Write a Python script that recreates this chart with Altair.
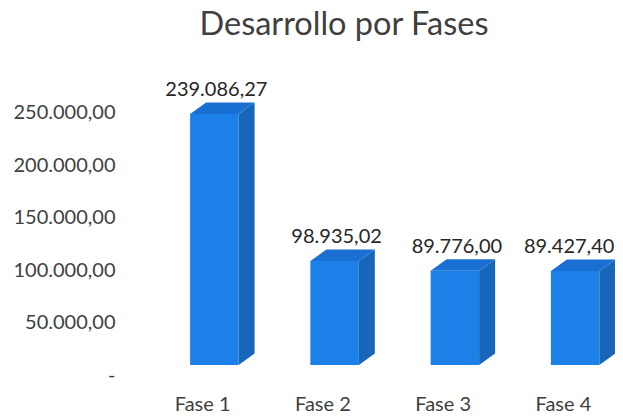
import altair as alt
import pandas as pd

categories = ["Fase 1", "Fase 2", "Fase 3", "Fase 4"]
values = [239086.27, 98935.02, 89776.00, 89427.40]
value_labels = ["239.086,27", "98.935,02", "89.776,00", "89.427,40"]
y_ticks = [0, 50000, 100000, 150000, 200000, 250000]

FRONT_L, FRONT_W = 0.40, 0.403
DEPTH_X, DEPTH_Y = 0.133, 11000

front, side, top = [], [], []
for i, (c, v, t) in enumerate(zip(categories, values, value_labels)):
    l = i + FRONT_L
    r = l + FRONT_W
    front.append({"c": c, "l": l, "r": r, "v": v, "t": t, "m": (l + r) / 2})
    side += [
        {"c": c, "x": r, "y": v, "y2": 0},
        {"c": c, "x": r + DEPTH_X, "y": v + DEPTH_Y, "y2": DEPTH_Y},
    ]
    top += [
        {"c": c, "x": l, "y": v, "y2": v},
        {"c": c, "x": l + DEPTH_X, "y": v + DEPTH_Y, "y2": v},
        {"c": c, "x": r, "y": v + DEPTH_Y, "y2": v},
        {"c": c, "x": r + DEPTH_X, "y": v + DEPTH_Y, "y2": v + DEPTH_Y},
    ]

FONT = "Lato"
INK = "#3f3f3f"
xs = alt.Scale(domain=[0, 3.933], nice=False, zero=False)
ys = alt.Scale(domain=[0, 250000], nice=False)

x_axis = alt.Axis(
    values=[0.5, 1.5, 2.5, 3.5],
    labelExpr="'Fase ' + ceil(datum.value)",
    title=None, domain=False, ticks=False, grid=False,
    labelFont=FONT, labelFontSize=20, labelColor=INK, labelPadding=29,
)
y_axis = alt.Axis(
    values=y_ticks,
    labelExpr="datum.value == 0 ? '-' : format(datum.value / 1000, 'd') + '.000,00'",
    title=None, domain=False, ticks=False, grid=False,
    labelFont=FONT, labelFontSize=20, labelColor=INK, labelPadding=27, labelOffset=10,
)

fdf = pd.DataFrame(front)
bars = alt.Chart(fdf).mark_rect(color="#1c80e9").encode(
    x=alt.X("l:Q", scale=xs, axis=x_axis),
    x2="r:Q",
    y=alt.Y("v:Q", scale=ys, axis=y_axis),
    y2=alt.datum(0),
)


def face(rows, colour):
    return alt.Chart(pd.DataFrame(rows)).mark_area(
        color=colour, interpolate="linear", orient="vertical", opacity=1,
    ).encode(
        x=alt.X("x:Q", scale=xs),
        y=alt.Y("y:Q", scale=ys, stack=None),
        y2=alt.Y2("y2:Q"),
        detail="c:N",
    )


def labels(df, dx):
    return alt.Chart(df).mark_text(
        font=FONT, fontSize=20, color="#262626", dx=dx, dy=-24, baseline="middle",
    ).encode(
        x=alt.X("m:Q", scale=xs), y=alt.Y("v:Q", scale=ys), text="t:N",
    )


chart = alt.layer(
    bars,
    face(side, "#1766ba"),
    face(top, "#1a6fd2"),
    labels(fdf.iloc[:3], 2),
    labels(fdf.iloc[3:], -6),
).properties(
    width=473,
    height=262.5,
    title=alt.TitleParams(
        "Desarrollo por Fases", font=FONT, fontSize=32.5, fontWeight="normal",
        color=INK, anchor="middle", dx=-34.5, offset=38,
    ),
    padding={"left": 134, "top": 94.5, "right": 0, "bottom": 52},
    autosize=alt.AutoSizeParams(type="none"),
).configure_view(stroke=None)

chart.save("out.html", embed_options={"renderer": "svg", "actions": False})
